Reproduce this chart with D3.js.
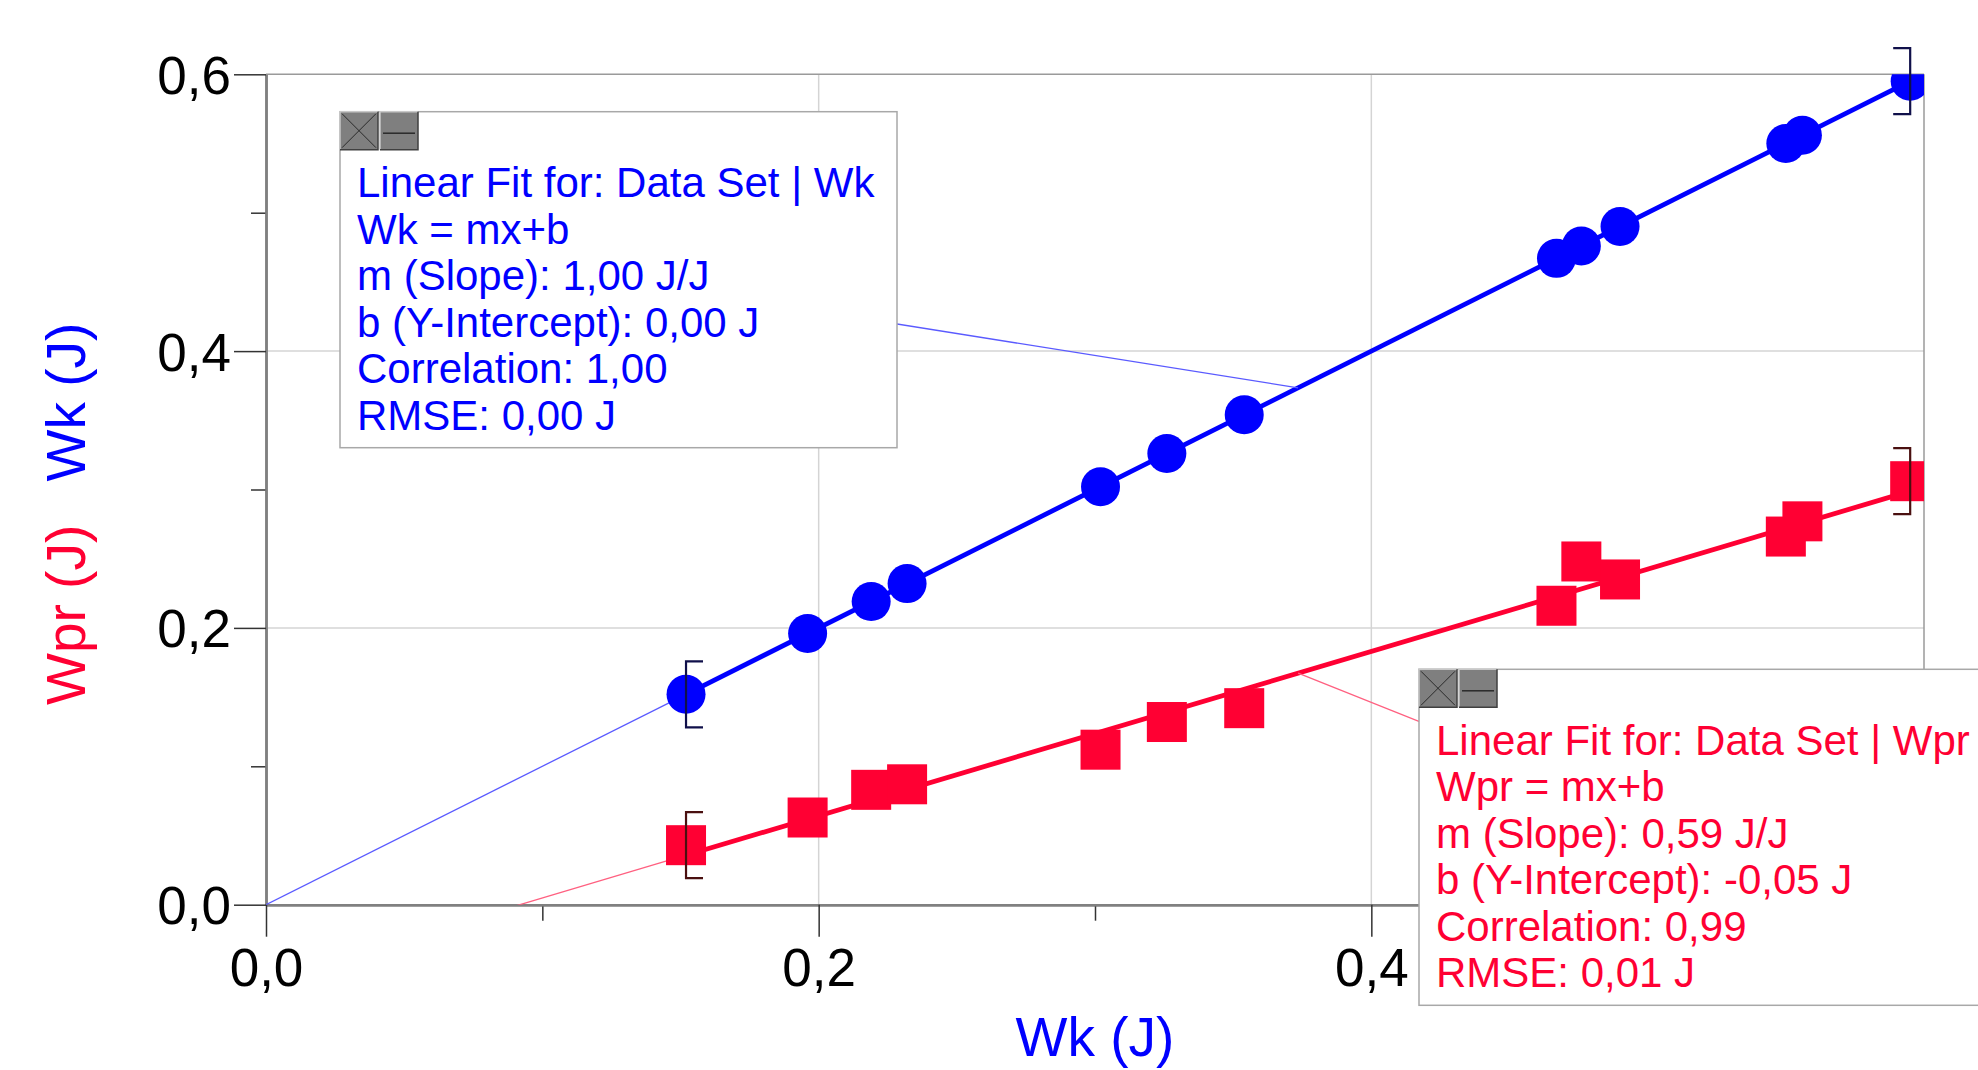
<!DOCTYPE html>
<html>
<head>
<meta charset="utf-8">
<script src="https://cdn.jsdelivr.net/npm/d3@7"></script>
<style>
  body { margin: 0; background: #fff; }
  text { font-family: "Liberation Sans", Arial, sans-serif; }
</style>
</head>
<body>
<div id="vis"></div>
<script>
// data arrays (Wk on x, both Wk and Wpr on y)
var wk  = [0.152, 0.196, 0.219, 0.232, 0.302, 0.326, 0.354, 0.467, 0.476, 0.490, 0.550, 0.556, 0.595];
var wpr = [0.043, 0.063, 0.083, 0.087, 0.112, 0.132, 0.142, 0.216, 0.248, 0.235, 0.266, 0.277, 0.306];

// ticks
var majorTicks = [0, 0.2, 0.4, 0.6];
var minorTicks = [0.1, 0.3, 0.5];
var xTickLabels = ["0,0", "0,2", "0,4", ""];
var yTickLabels = ["0,0", "0,2", "0,4", "0,6"];

// fit box texts
var wkFitText = ["Linear Fit for: Data Set | Wk", "Wk = mx+b", "m (Slope): 1,00 J/J",
  "b (Y-Intercept): 0,00 J", "Correlation: 1,00", "RMSE: 0,00 J"];
var wprFitText = ["Linear Fit for: Data Set | Wpr", "Wpr = mx+b", "m (Slope): 0,59 J/J",
  "b (Y-Intercept): -0,05 J", "Correlation: 0,99", "RMSE: 0,01 J"];

let svgWidth = 1978;
let svgHeight = 1070;
let blue = "#0000ff";
let red = "#ff0033";

var xscale = d3.scaleLinear().domain([0, 0.6]).range([266, 1924]);
var yscale = d3.scaleLinear().domain([0, 0.6]).range([904.7, 74.3]);

let svg = d3.select("#vis")
  .append("svg")
  .attr("width", svgWidth)
  .attr("height", svgHeight)
  .style("display", "block");

svg.append("defs").append("clipPath")
  .attr("id", "plotClip")
  .append("rect")
  .attr("x", xscale(0))
  .attr("y", yscale(0.6))
  .attr("width", xscale(0.6) - xscale(0))
  .attr("height", yscale(0) - yscale(0.6));

// grid lines
let grid = svg.append("g");
grid.selectAll(".vgrid")
  .data([0.2, 0.4])
  .enter().append("line")
  .attr("x1", d => xscale(d)).attr("x2", d => xscale(d))
  .attr("y1", yscale(0)).attr("y2", yscale(0.6))
  .attr("stroke", "#d4d4d4").attr("stroke-width", 1.5);
grid.selectAll(".hgrid")
  .data([0.2, 0.4])
  .enter().append("line")
  .attr("x1", xscale(0)).attr("x2", xscale(0.6))
  .attr("y1", d => yscale(d)).attr("y2", d => yscale(d))
  .attr("stroke", "#d4d4d4").attr("stroke-width", 1.5);

// top and right frame
grid.append("line")
  .attr("x1", xscale(0)).attr("x2", xscale(0.6))
  .attr("y1", yscale(0.6)).attr("y2", yscale(0.6))
  .attr("stroke", "#9a9a9a").attr("stroke-width", 1.5);
grid.append("line")
  .attr("x1", xscale(0.6)).attr("x2", xscale(0.6))
  .attr("y1", yscale(0)).attr("y2", yscale(0.6))
  .attr("stroke", "#9a9a9a").attr("stroke-width", 1.5);

// axes
function styleAxis(g) {
  g.select(".domain").attr("stroke", "#808080").attr("stroke-width", 2.5);
  g.selectAll(".tick line").attr("stroke", "#333").attr("stroke-width", 1.5);
  g.selectAll(".tick text")
    .attr("fill", "#000")
    .style("font-size", "53px")
    .style("font-family", "'Liberation Sans', Arial, sans-serif");
}

var y_axis = d3.axisLeft(yscale)
  .tickValues(majorTicks)
  .tickSize(32)
  .tickSizeOuter(0)
  .tickPadding(3)
  .tickFormat((d, i) => yTickLabels[i]);
var y_minor = d3.axisLeft(yscale)
  .tickValues(minorTicks)
  .tickSize(15)
  .tickSizeOuter(0)
  .tickFormat("");

var x_axis = d3.axisBottom(xscale)
  .tickValues(majorTicks)
  .tickSize(32)
  .tickSizeOuter(0)
  .tickPadding(12)
  .tickFormat((d, i) => xTickLabels[i]);
var x_minor = d3.axisBottom(xscale)
  .tickValues(minorTicks)
  .tickSize(16)
  .tickSizeOuter(0)
  .tickFormat("");

svg.append("g")
  .attr("transform", `translate(${xscale(0)},0)`)
  .call(y_minor).call(styleAxis);
svg.append("g")
  .attr("transform", `translate(${xscale(0)},0)`)
  .call(y_axis).call(styleAxis)
  .selectAll(".tick text").attr("dy", "0.36em");

svg.append("g")
  .attr("transform", `translate(0,${yscale(0)})`)
  .call(x_minor).call(styleAxis);
svg.append("g")
  .attr("transform", `translate(0,${yscale(0)})`)
  .call(x_axis).call(styleAxis);

// axis titles
svg.append("text")
  .attr("x", xscale(0.3))
  .attr("y", 1056)
  .attr("text-anchor", "middle")
  .attr("fill", blue)
  .style("font-size", "55px")
  .text("Wk (J)");

svg.append("text")
  .attr("transform", "translate(85,481.5) rotate(-90)")
  .attr("fill", blue)
  .style("font-size", "55px")
  .text("Wk (J)");

svg.append("text")
  .attr("transform", "translate(85,705) rotate(-90)")
  .attr("fill", red)
  .style("font-size", "55px")
  .text("Wpr (J)");

// linear fits
function linfit(xs, ys) {
  let mx = d3.mean(xs), my = d3.mean(ys);
  let sxy = d3.sum(xs, (x, i) => (x - mx) * (ys[i] - my));
  let sxx = d3.sum(xs, x => (x - mx) * (x - mx));
  let m = sxy / sxx;
  return { m: m, b: my - m * mx };
}

var series = [
  { ys: wk, color: blue, thin: "#5a5aff", bracket: "#10104a", shape: "circle",
    text: wkFitText, box: { x: 340, y: 111.7, w: 557, h: 336 } },
  { ys: wpr, color: red, thin: "#ff6080", bracket: "#4a1010", shape: "square",
    text: wprFitText, box: { x: 1419, y: 669.3, w: 580, h: 336 } }
];

let plot = svg.append("g").attr("clip-path", "url(#plotClip)");
var line = d3.line().x(d => xscale(d[0])).y(d => yscale(d[1]));
let xmin = d3.min(wk), xmax = d3.max(wk);

series.forEach(function(s) {
  s.fit = linfit(wk, s.ys);
  let f = (x) => s.fit.m * x + s.fit.b;
  // thin extrapolation back to x = 0
  plot.append("path")
    .attr("d", line([[0, f(0)], [xmin, f(xmin)]]))
    .attr("stroke", s.thin).attr("stroke-width", 1.3).attr("fill", "none");
  // thick fit over data range
  plot.append("path")
    .attr("d", line([[xmin, f(xmin)], [xmax, f(xmax)]]))
    .attr("stroke", s.color).attr("stroke-width", 4.8).attr("fill", "none");
});

series.forEach(function(s) {
  let pts = wk.map((x, i) => [x, s.ys[i]]);
  if (s.shape === "circle") {
    plot.selectAll(null)
      .data(pts).enter().append("circle")
      .attr("cx", d => xscale(d[0]))
      .attr("cy", d => yscale(d[1]))
      .attr("r", 19.5)
      .attr("fill", s.color);
  } else {
    plot.selectAll(null)
      .data(pts).enter().append("rect")
      .attr("x", d => xscale(d[0]) - 20)
      .attr("y", d => yscale(d[1]) - 20)
      .attr("width", 40).attr("height", 40)
      .attr("fill", s.color);
  }
  // range brackets at first and last point
  let first = pts[0], last = pts[pts.length - 1];
  [[first, 1], [last, -1]].forEach(function(b) {
    let bx = xscale(b[0][0]), by = yscale(b[0][1]), dir = b[1];
    svg.append("path")
      .attr("d", `M${bx + dir * 17},${by - 33}H${bx}V${by + 33}H${bx + dir * 17}`)
      .attr("stroke", s.bracket).attr("stroke-width", 2.2).attr("fill", "none");
  });
});

// callout lines from middle of fit to the box centre, then the boxes
series.forEach(function(s) {
  let xm = (xmin + xmax) / 2;
  svg.append("line")
    .attr("x1", xscale(xm)).attr("y1", yscale(s.fit.m * xm + s.fit.b))
    .attr("x2", s.box.x + s.box.w / 2).attr("y2", s.box.y + s.box.h / 2)
    .attr("stroke", s.thin).attr("stroke-width", 1.3);
});

series.forEach(function(s) {
  let bx = s.box.x, by = s.box.y;
  let g = svg.append("g");
  g.append("rect")
    .attr("x", bx).attr("y", by)
    .attr("width", s.box.w).attr("height", s.box.h)
    .attr("fill", "#fff").attr("stroke", "#a8a8a8").attr("stroke-width", 1.5);

  // close and minimise buttons
  [0, 40].forEach(function(off, k) {
    let x0 = bx + off, y0 = by;
    g.append("rect")
      .attr("x", x0).attr("y", y0).attr("width", 38).attr("height", 38)
      .attr("fill", "#7f7f7f");
    g.append("path")
      .attr("d", `M${x0},${y0 + 38}V${y0}H${x0 + 38}`)
      .attr("stroke", "#c8c8c8").attr("stroke-width", 1.5).attr("fill", "none");
    g.append("path")
      .attr("d", `M${x0 + 38},${y0}V${y0 + 38}H${x0}`)
      .attr("stroke", "#404040").attr("stroke-width", 1.5).attr("fill", "none");
    if (k === 0) {
      g.append("path")
        .attr("d", `M${x0 + 2},${y0 + 2}L${x0 + 36},${y0 + 36}M${x0 + 36},${y0 + 2}L${x0 + 2},${y0 + 36}`)
        .attr("stroke", "#2a2a2a").attr("stroke-width", 1);
    } else {
      g.append("line")
        .attr("x1", x0 + 3).attr("x2", x0 + 35)
        .attr("y1", y0 + 21.5).attr("y2", y0 + 21.5)
        .attr("stroke", "#2a2a2a").attr("stroke-width", 1.5);
    }
  });

  g.selectAll(null)
    .data(s.text).enter().append("text")
    .attr("x", bx + 17)
    .attr("y", (d, i) => by + 85.6 + i * 46.5)
    .attr("fill", s.color)
    .style("font-size", "42px")
    .text(d => d);
});
</script>
</body>
</html>
